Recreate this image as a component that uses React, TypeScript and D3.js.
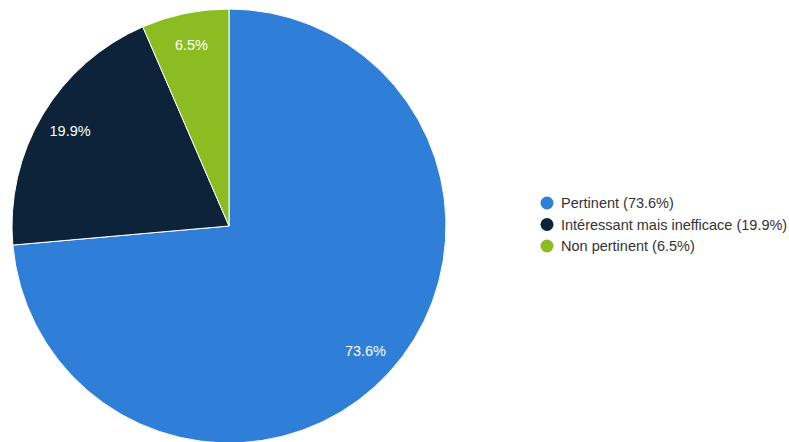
import React from "react";
import * as d3 from "d3";

const categories = ["Pertinent", "Intéressant mais inefficace", "Non pertinent"];
const values = [73.6, 19.9, 6.5];
const colors = ["#2f7ed8", "#0d233a", "#8bbc21"];

const W = 789;
const H = 442;
const cx = 229;
const cy = 226;
const radius = 217;
const labelRadius = 185;

export default function App() {
  const pie = d3.pie<number>().sort(null).value((d) => d)(values);
  const arc = d3.arc<d3.PieArcDatum<number>>().innerRadius(0).outerRadius(radius);
  const labelArc = d3
    .arc<d3.PieArcDatum<number>>()
    .innerRadius(labelRadius)
    .outerRadius(labelRadius);

  const legendY = d3
    .scalePoint<string>()
    .domain(categories)
    .range([203, 246]);

  return (
    <svg
      width={W}
      height={H}
      style={{ position: "absolute", left: 0, top: 0, fontFamily: "Arial, 'Liberation Sans', sans-serif" }}
    >
      <rect width={W} height={H} fill="#ffffff" />
      <g transform={`translate(${cx},${cy})`}>
        {pie.map((s, i) => (
          <path key={i} d={arc(s) || ""} fill={colors[i]} stroke="#ffffff" strokeWidth={1} />
        ))}
        {pie.map((s, i) => {
          const [x, y] = labelArc.centroid(s);
          return (
            <text
              key={i}
              x={x}
              y={y}
              dy="0.35em"
              textAnchor="middle"
              fontSize={14.5}
              fill="#ffffff"
            >
              {`${values[i]}%`}
            </text>
          );
        })}
      </g>
      <g>
        {categories.map((c, i) => (
          <g key={c} transform={`translate(547,${legendY(c)})`}>
            <circle r={6.5} fill={colors[i]} />
            <text x={14} dy="0.35em" fontSize={14.5} fill="#333333">
              {`${c} (${values[i]}%)`}
            </text>
          </g>
        ))}
      </g>
    </svg>
  );
}
